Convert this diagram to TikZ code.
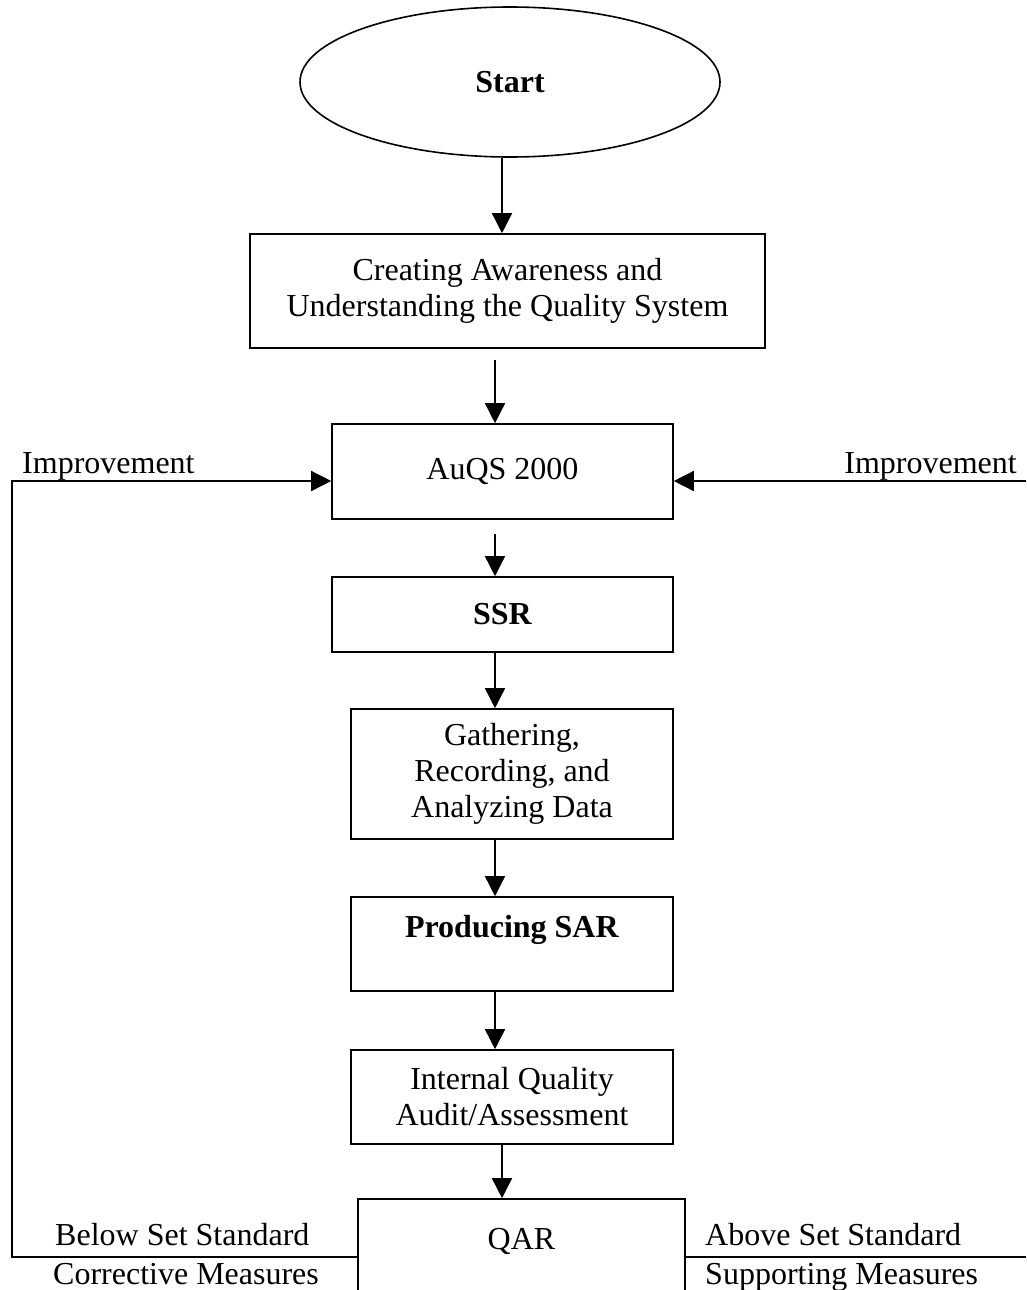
\documentclass[tikz,border=0pt]{standalone}
\usepackage{fontspec}
\setmainfont{Liberation Serif}
\usetikzlibrary{shapes.geometric,arrows.meta}
\tikzset{
  box/.style={draw, line width=1.6pt, inner sep=0pt, align=center},
  arr/.style={line width=1.5pt, -{Triangle[length=20pt,width=20pt]}},
  lbl/.style={inner sep=0pt},
}
\begin{document}
\begin{tikzpicture}[x=1pt,y=-1pt,font=\fontsize{32}{36}\selectfont]
\useasboundingbox (0,0) rectangle (1026,1290);
\clip (0,0) rectangle (1026,1290);

\node[box, ellipse, minimum width=420pt, minimum height=150pt] (start) at (510,82) {\textbf{Start}};
\node[box, minimum width=515pt, minimum height=114pt] (aware) at (507.5,291) {Creating Awareness and\\Understanding the Quality System};
\node[box, minimum width=341pt, minimum height=95pt] (auqs) at (502.5,471.5) {AuQS 2000};
\node[box, minimum width=341pt, minimum height=75pt] (ssr) at (502.5,614.5) {\textbf{SSR}};
\node[box, minimum width=322pt, minimum height=130pt] (gather) at (512,774) {Gathering,\\Recording, and\\Analyzing Data};
\node[box, minimum width=322pt, minimum height=94pt] (sar) at (512,944) {\textbf{Producing SAR}\\\mbox{}};
\node[box, minimum width=322pt, minimum height=94pt] (audit) at (512,1097) {Internal Quality\\Audit/Assessment};
\node[box, minimum width=327pt, minimum height=116pt] (qar) at (521.5,1257) {QAR\\\mbox{}};

% side labels
\node[lbl, anchor=base west] (impL) at (22,473) {Improvement};
\node[lbl, anchor=base east] (impR) at (1017,473) {Improvement};
\node[lbl, anchor=base west] (below) at (55,1245) {Below Set Standard};
\node[lbl, anchor=base west] (corr) at (53,1284) {Corrective Measures};
\node[lbl, anchor=base west] (above) at (705,1245) {Above Set Standard};
\node[lbl, anchor=base west] (supp) at (705,1284) {Supporting Measures};

\coordinate (axA) at (502,0);
\coordinate (axB) at (495,0);
\coordinate (cornerL) at (12,481);
\coordinate (edgeR) at (1026,481);
\coordinate (edgeRB) at (1026,1257);

\draw[arr] (start.south -| axA) -- (aware.north -| axA);
\draw[arr, shorten <=11pt] (aware.south -| axB) -- (auqs.north -| axB);
\draw[arr, shorten <=14pt] (auqs.south -| axB) -- (ssr.north -| axB);
\foreach \a/\b in {ssr/gather, gather/sar, sar/audit}
  \draw[arr] (\a.south -| axB) -- (\b.north -| axB);
\draw[arr] (audit.south -| axA) -- (qar.north -| axA);

% feedback
\draw[arr] (qar.west) -| (cornerL) -- (auqs.west |- cornerL);
\draw[arr] (edgeR) -- (auqs.east |- edgeR);
\draw[line width=1.5pt] (qar.east) -- (edgeRB);
\end{tikzpicture}
\end{document}
